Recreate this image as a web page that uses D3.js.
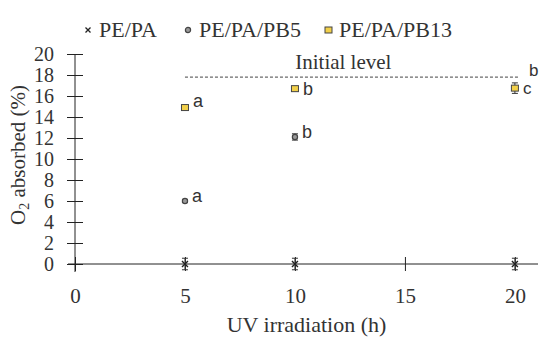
<!DOCTYPE html>
<html>
<head>
<meta charset="utf-8">
<script src="https://cdn.jsdelivr.net/npm/d3@7"></script>
<style>
  body { margin: 0; background: #fff; }
  svg text { font-family: "Liberation Serif", "Times New Roman", serif; fill: #333; }
  svg text.letter { font-family: "Liberation Sans", Arial, sans-serif; }
</style>
</head>
<body>
<div id="chart"></div>
<script>
// data
const hours = [5, 10, 20]
const pePa = [0, 0, 0]
const pePaErr = [0.55, 0.55, 0.55]
const pb5Hours = [5, 10]
const pb5 = [6.0, 12.1]
const pb5Err = [0.15, 0.3]
const pb5Letters = ["a", "b"]
const pb13 = [14.9, 16.7, 16.75]
const pb13Err = [0.15, 0.15, 0.5]
const pb13Letters = ["a", "b", "c"]
const initialLevel = 17.8
const initialLetter = "b"
const xTicks = [0, 5, 10, 15, 20]
const yTicks = [0, 2, 4, 6, 8, 10, 12, 14, 16, 18, 20]

const margin = { top: 54, right: 12, bottom: 81, left: 75 }
const width = 550 - margin.left - margin.right
const height = 345 - margin.top - margin.bottom

const serif = '"Liberation Serif", "Times New Roman", serif'

const svg = d3.select("#chart").append("svg")
    .attr("width", 550)
    .attr("height", 345)

const g = svg.append("g")
    .attr("transform", "translate(" + margin.left + "," + margin.top + ")")

const x = d3.scaleLinear().domain([0, 21.05]).range([0, width])
const y = d3.scaleLinear().domain([0, 20]).range([height, 0])

// axes, ticks cross the line
const xAxis = d3.axisBottom(x).tickValues(xTicks).tickSize(7).tickPadding(17)
const yAxis = d3.axisLeft(y).tickValues(yTicks).tickSize(8).tickPadding(13)

g.append("g")
    .attr("transform", "translate(0," + height + ")")
    .attr("font-family", serif)
    .call(xAxis)
    .call(a => a.select(".domain").remove())
    .call(a => a.selectAll(".tick line").attr("y1", -7).attr("stroke", "#222"))
    .call(a => a.selectAll(".tick text").style("font-size", "21px").attr("fill", "#333"))

g.append("g")
    .attr("font-family", serif)
    .call(yAxis)
    .call(a => a.select(".domain").remove())
    .call(a => a.selectAll(".tick line").attr("x1", 8).attr("stroke", "#222"))
    .call(a => a.selectAll(".tick text").style("font-size", "20px").attr("fill", "#333"))

g.append("line")
    .attr("x1", -7).attr("x2", width)
    .attr("y1", height).attr("y2", height)
    .attr("stroke", "#222")
g.append("line")
    .attr("x1", 0).attr("x2", 0)
    .attr("y1", 0).attr("y2", height + 8)
    .attr("stroke", "#222")

// initial level
g.append("line")
    .attr("x1", x(5)).attr("x2", x(20.2))
    .attr("y1", y(initialLevel)).attr("y2", y(initialLevel))
    .attr("stroke", "#444")
    .attr("stroke-dasharray", "3 2")
g.append("text")
    .attr("x", x(12.2)).attr("y", y(initialLevel) - 8)
    .attr("text-anchor", "middle")
    .style("font-size", "21px")
    .text("Initial level")
g.append("text")
    .attr("class", "letter")
    .attr("x", x(20) + 14).attr("y", y(initialLevel) - 1)
    .style("font-size", "17px")
    .text(initialLetter)

function errBars(xs, vals, errs) {
    xs.forEach((h, i) => {
        const x0 = x(h), lo = y(vals[i] - errs[i]), hi = y(vals[i] + errs[i])
        g.append("line").attr("x1", x0).attr("x2", x0).attr("y1", lo).attr("y2", hi).attr("stroke", "#333")
        g.append("line").attr("x1", x0 - 3).attr("x2", x0 + 3).attr("y1", lo).attr("y2", lo).attr("stroke", "#333")
        g.append("line").attr("x1", x0 - 3).attr("x2", x0 + 3).attr("y1", hi).attr("y2", hi).attr("stroke", "#333")
    })
}

const crossPath = "M-3,-3L3,3M-3,3L3,-3"

// PE/PA
errBars(hours, pePa, pePaErr)
g.selectAll(".pepa")
    .data(hours)
    .enter()
    .append("path")
    .attr("transform", (d, i) => "translate(" + x(d) + "," + y(pePa[i]) + ")")
    .attr("d", crossPath)
    .attr("stroke", "#222")
    .attr("stroke-width", 1.4)

// PE/PA/PB5
errBars(pb5Hours, pb5, pb5Err)
g.selectAll(".pb5")
    .data(pb5Hours)
    .enter()
    .append("circle")
    .attr("cx", d => x(d))
    .attr("cy", (d, i) => y(pb5[i]))
    .attr("r", 2.6)
    .attr("fill", "#999")
    .attr("stroke", "#444")
    .attr("stroke-width", 1.2)
g.selectAll(".pb5lab")
    .data(pb5Hours)
    .enter()
    .append("text")
    .attr("class", "letter")
    .attr("x", d => x(d) + 7)
    .attr("y", (d, i) => y(pb5[i]) + 1)
    .style("font-size", "18px")
    .text((d, i) => pb5Letters[i])

// PE/PA/PB13
errBars(hours, pb13, pb13Err)
g.selectAll(".pb13")
    .data(hours)
    .enter()
    .append("rect")
    .attr("x", d => x(d) - 3.5)
    .attr("y", (d, i) => y(pb13[i]) - 3)
    .attr("width", 7)
    .attr("height", 6)
    .attr("fill", "#f2d04a")
    .attr("stroke", "#444")
    .attr("stroke-width", 1)
g.selectAll(".pb13lab")
    .data(hours)
    .enter()
    .append("text")
    .attr("class", "letter")
    .attr("x", d => x(d) + 8)
    .attr("y", (d, i) => y(pb13[i]) + (i == 0 ? -1 : 6))
    .style("font-size", (d, i) => i == 2 ? "17px" : "18px")
    .text((d, i) => pb13Letters[i])

// axis titles
svg.append("text")
    .attr("x", margin.left + width / 2)
    .attr("y", 332)
    .attr("text-anchor", "middle")
    .style("font-size", "22px")
    .text("UV irradiation (h)")

const yt = svg.append("text")
    .attr("transform", "translate(25," + (margin.top + height / 2 - 4) + ") rotate(-90)")
    .attr("text-anchor", "middle")
    .style("font-size", "21px")
yt.append("tspan").text("O")
yt.append("tspan").attr("dy", 4).style("font-size", "14px").text("2")
yt.append("tspan").attr("dy", -4).text(" absorbed  (%)")

// legend
const legend = svg.append("g").attr("transform", "translate(0,30)")
legend.append("path")
    .attr("transform", "translate(88,0)")
    .attr("d", "M-2.5,-2.5L2.5,2.5M-2.5,2.5L2.5,-2.5")
    .attr("stroke", "#222")
    .attr("stroke-width", 1.3)
legend.append("text").attr("x", 99).attr("y", 7).style("font-size", "22px").text("PE/PA")
legend.append("circle").attr("cx", 188).attr("cy", 0).attr("r", 2.6)
    .attr("fill", "#999").attr("stroke", "#444").attr("stroke-width", 1.2)
legend.append("text").attr("x", 199).attr("y", 7).style("font-size", "22px").text("PE/PA/PB5")
legend.append("rect").attr("x", 325).attr("y", -3).attr("width", 7).attr("height", 6)
    .attr("fill", "#f2d04a").attr("stroke", "#444")
legend.append("text").attr("x", 339).attr("y", 7).style("font-size", "22px").text("PE/PA/PB13")
</script>
</body>
</html>
